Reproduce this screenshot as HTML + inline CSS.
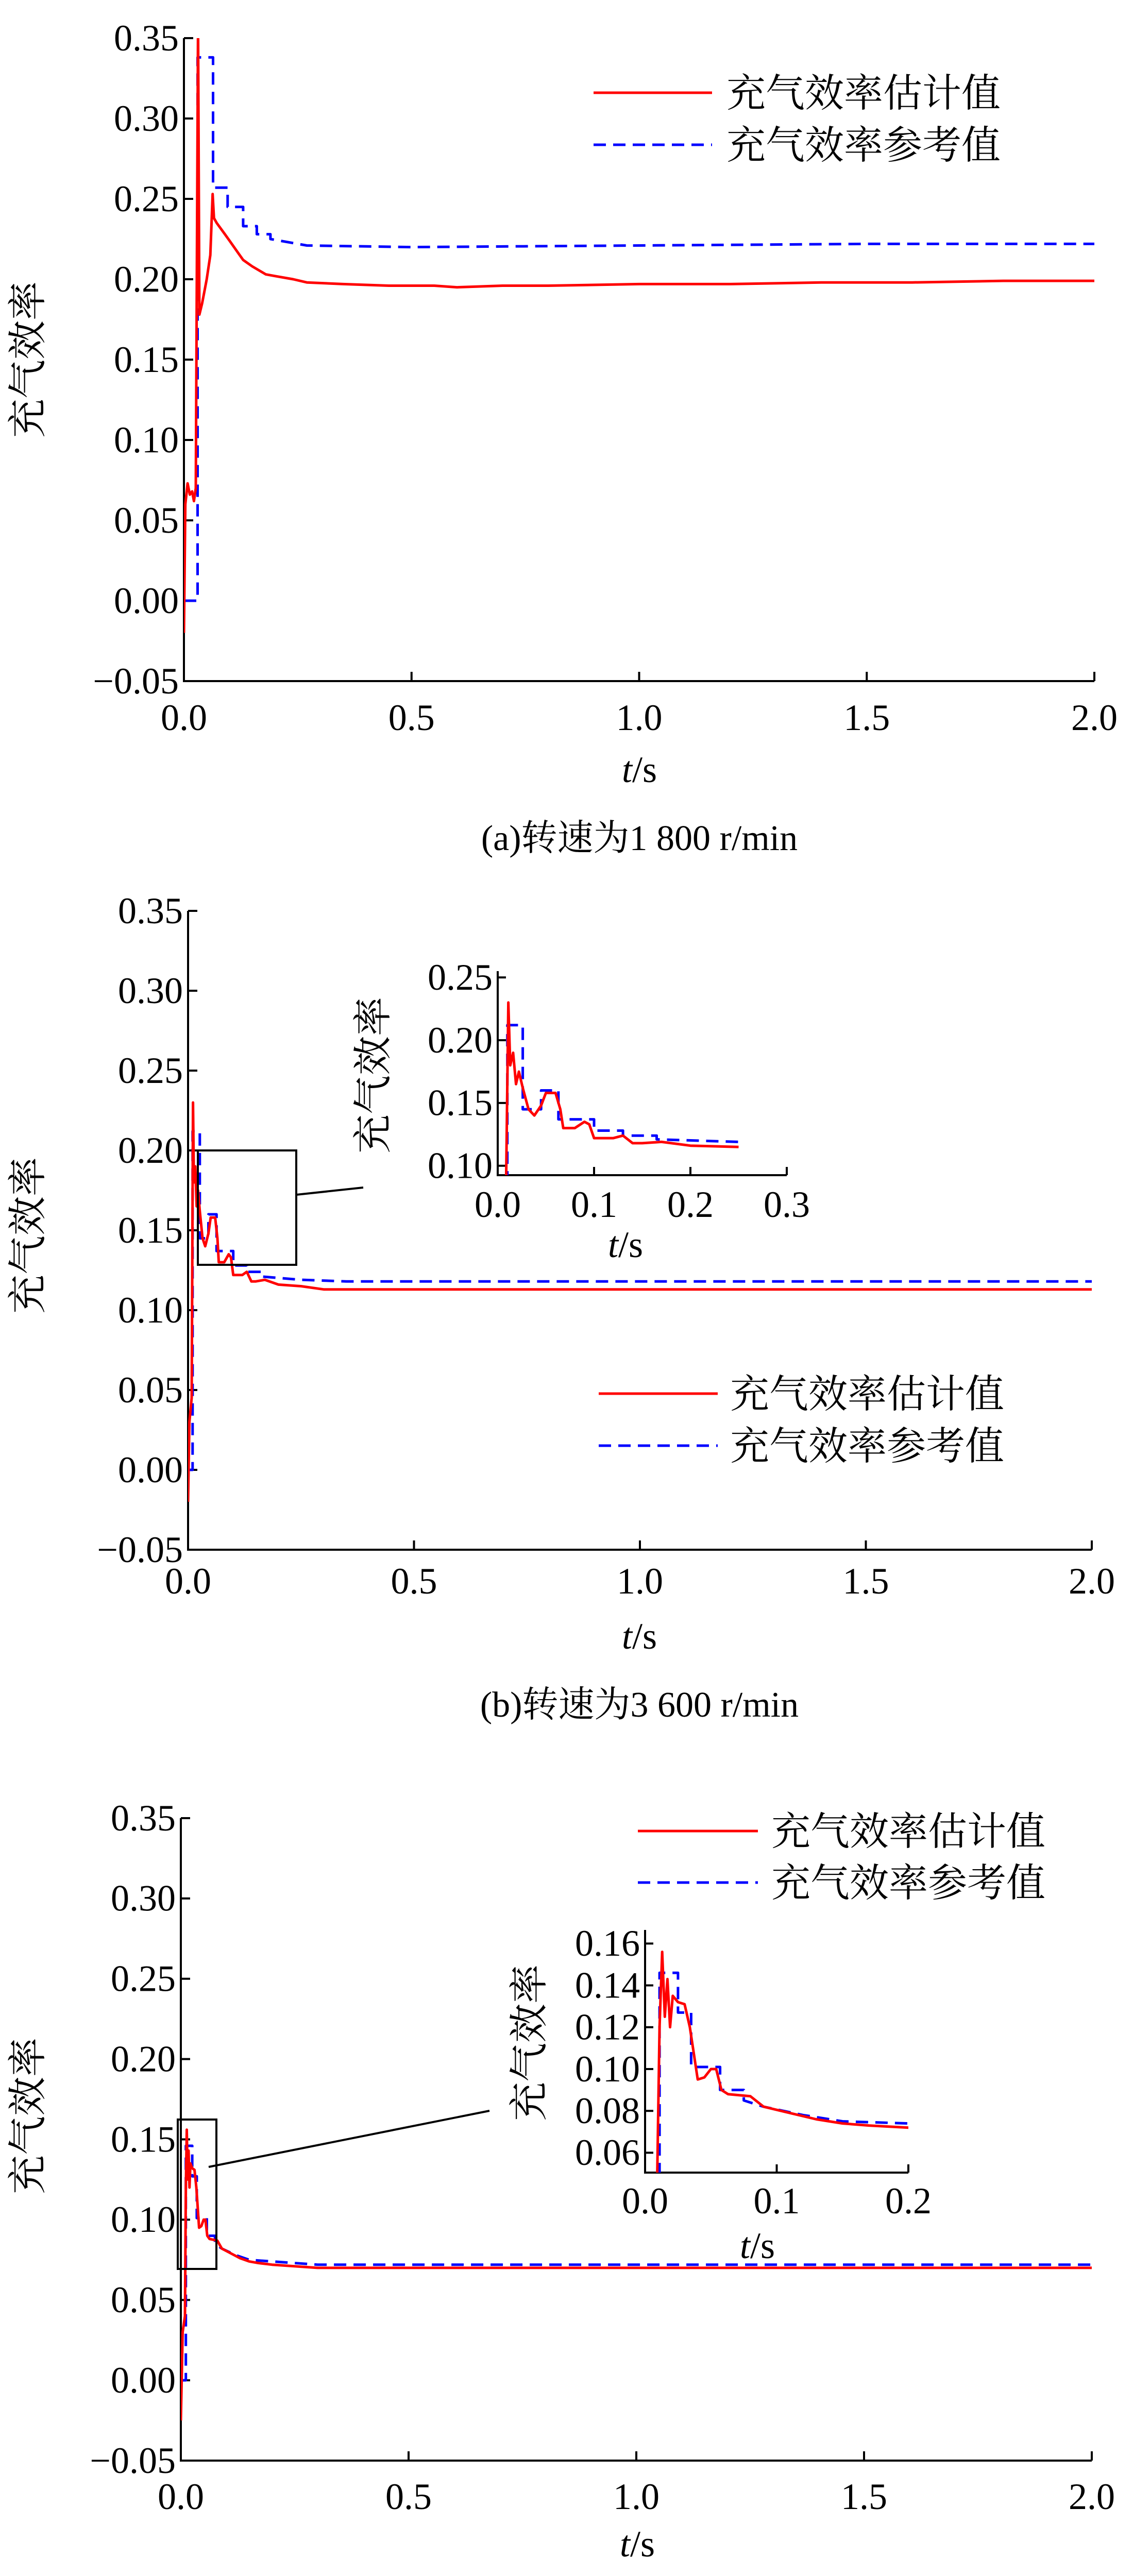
<!DOCTYPE html>
<html><head><meta charset="utf-8">
<style>
html,body{margin:0;padding:0;background:#fff;overflow:hidden;width:2199px;height:5159px;}
svg{display:block;position:absolute;left:0;top:0;}
</style></head>
<body>
<svg id="fig" width="2199" height="5159" viewBox="0 0 2199 5159" xmlns="http://www.w3.org/2000/svg">
<defs>
<clipPath id="clipA"><rect x="357" y="74" width="1767" height="1248"/></clipPath>
<clipPath id="clipB"><rect x="365" y="1768" width="1754" height="1240"/></clipPath>
<clipPath id="clipBi"><rect x="966" y="1885" width="561" height="396"/></clipPath>
<clipPath id="clipC"><rect x="351" y="3529" width="1768" height="1247"/></clipPath>
<clipPath id="clipCi"><rect x="1252" y="3746" width="511" height="471"/></clipPath>
</defs>
<g id="root"></g>
</svg>
<script>
// ---------- data ----------
const aRedT  = [0,0.003,0.008,0.013,0.018,0.022,0.026,0.031,0.034,0.04,0.05,0.058,0.063,0.066,0.072,0.09,0.1,0.12,0.13,0.15,0.18,0.2,0.24,0.27,0.35,0.45,0.55,0.6,0.7,0.8,1.0,1.2,1.4,1.6,1.8,1.9,2.0];
const aRedV  = [-0.02,0.06,0.073,0.066,0.068,0.062,0.07,0.36,0.178,0.185,0.2,0.215,0.253,0.238,0.235,0.228,0.224,0.216,0.212,0.208,0.203,0.202,0.2,0.198,0.197,0.196,0.196,0.195,0.196,0.196,0.197,0.197,0.198,0.198,0.199,0.199,0.199];
const aBlueT = [0,0.03,0.03,0.064,0.064,0.096,0.096,0.13,0.13,0.16,0.16,0.19,0.19,0.27,0.5,1.0,1.5,2.0];
const aBlueV = [0,0,0.338,0.338,0.257,0.257,0.245,0.245,0.233,0.233,0.228,0.228,0.225,0.221,0.22,0.221,0.222,0.222];

const bRedT  = [0,0.003,0.008,0.011,0.013,0.016,0.019,0.022,0.026,0.032,0.038,0.045,0.05,0.06,0.065,0.068,0.08,0.09,0.095,0.1,0.12,0.13,0.14,0.15,0.17,0.2,0.25,0.3,0.5,1.0,1.5,2.0];
const bRedV  = [-0.02,0.03,0.045,0.23,0.18,0.19,0.165,0.175,0.162,0.145,0.14,0.148,0.158,0.158,0.145,0.13,0.13,0.135,0.133,0.122,0.122,0.124,0.118,0.118,0.119,0.116,0.115,0.113,0.113,0.113,0.113,0.113];
const bBlueT = [0,0.01,0.01,0.026,0.026,0.045,0.045,0.063,0.063,0.1,0.1,0.13,0.13,0.165,0.165,0.25,0.35,1.0,2.0];
const bBlueV = [0,0,0.212,0.212,0.145,0.145,0.16,0.16,0.137,0.137,0.128,0.128,0.124,0.124,0.121,0.119,0.118,0.118,0.118];

const cRedT  = [0,0.004,0.009,0.011,0.013,0.015,0.017,0.019,0.021,0.025,0.03,0.034,0.04,0.045,0.05,0.054,0.058,0.063,0.08,0.09,0.11,0.13,0.15,0.17,0.2,0.3,0.5,1.0,1.5,2.0];
const cRedV  = [-0.025,0.03,0.04,0.12,0.156,0.125,0.143,0.12,0.135,0.132,0.131,0.12,0.095,0.096,0.1,0.1,0.09,0.088,0.087,0.082,0.079,0.076,0.074,0.073,0.072,0.07,0.07,0.07,0.07,0.07];
const cBlueT = [0,0.011,0.011,0.025,0.025,0.035,0.035,0.057,0.057,0.075,0.075,0.09,0.12,0.15,0.2,0.3,1.0,2.0];
const cBlueV = [0,0,0.146,0.146,0.127,0.127,0.101,0.101,0.09,0.09,0.085,0.082,0.078,0.075,0.074,0.072,0.072,0.072];

const mainYTicks = [-0.05,0,0.05,0.10,0.15,0.20,0.25,0.30,0.35];
const mainYLabels = ["\u22120.05","0.00","0.05","0.10","0.15","0.20","0.25","0.30","0.35"];
const mainXTicks = [0,0.5,1.0,1.5,2.0];
const mainXLabels = ["0.0","0.5","1.0","1.5","2.0"];
const bInYTicks = [0.10,0.15,0.20,0.25];
const bInYLabels = ["0.10","0.15","0.20","0.25"];
const bInXTicks = [0,0.1,0.2,0.3];
const bInXLabels = ["0.0","0.1","0.2","0.3"];
const cInYTicks = [0.06,0.08,0.10,0.12,0.14,0.16];
const cInYLabels = ["0.06","0.08","0.10","0.12","0.14","0.16"];
const cInXTicks = [0,0.1,0.2];
const cInXLabels = ["0.0","0.1","0.2"];

// ---------- drawing ----------
const NS = "http://www.w3.org/2000/svg";
const SERIF = '"Liberation Serif", "Noto Serif CJK SC", serif';
const CJK = '"Noto Serif CJK SC", "Noto Sans CJK SC", serif';
const root = document.getElementById('root');
function mk(tag, attrs, parent){
  const e = document.createElementNS(NS, tag);
  if (tag === 'text') { e.setAttribute('font-family', SERIF); e.setAttribute('fill', '#000'); }
  for (const k in attrs) e.setAttribute(k, attrs[k]);
  (parent||root).appendChild(e);
  return e;
}
function scale(d0,d1,r0,r1){ return v => r0 + (v-d0)/(d1-d0)*(r1-r0); }

function axes(ax, g, pre){
  const x = scale(ax.x0v, ax.x1v, ax.x0, ax.x1);
  const y = scale(ax.y0v, ax.y1v, ax.y0, ax.y1);
  const axLine = mk('path', {d:`M${ax.x0},${ax.y1} L${ax.x0},${ax.y0} L${ax.x1},${ax.y0}`, fill:'none', stroke:'#000', 'stroke-width':ax.lw}, g);
  
  
  ax.yt.forEach((v,i)=>{
    const ty = y(v);
    const t = mk('line', {x1:ax.x0, y1:ty, x2:ax.x0+ax.tl, y2:ty, stroke:'#000','stroke-width':ax.lw}, g);
    
    
    const l = mk('text', {x:ax.x0-10, y:ty+ax.fs*0.33, 'text-anchor':'end','font-size':ax.fs}, g);
    l.textContent = ax.yl[i];
    
    
  });
  ax.xt.forEach((v,i)=>{
    const tx = x(v);
    const t = mk('line', {x1:tx, y1:ax.y0, x2:tx, y2:ax.y0-ax.tl, stroke:'#000','stroke-width':ax.lw}, g);
    
    
    const l = mk('text', {x:tx, y:ax.xly, 'text-anchor':'middle','font-size':ax.fs}, g);
    l.textContent = ax.xl[i];
    
    
  });
  return {x,y};
}
function series(sc, ts, vs, color, dash, clip, g, name){
  let d = '';
  ts.forEach((t,i)=>{ d += (i?'L':'M') + sc.x(t).toFixed(1) + ',' + sc.y(vs[i]).toFixed(1); });
  const p = mk('path', {d, fill:'none', stroke:color, 'stroke-width':5, 'stroke-linejoin':'round', 'clip-path':`url(#${clip})`}, g);
  if (dash) p.setAttribute('stroke-dasharray', dash);
  
  
}
function label(x,y,txt,fs,rot,g,name,cjk){
  const t = mk('text', {x, y, 'text-anchor':'middle','font-size':fs}, g);
  if (rot) t.setAttribute('transform', `rotate(-90 ${x} ${y})`);
  if (cjk === 'cjk') t.setAttribute('font-family', CJK);
  t.innerHTML = txt;
  
  
  return t;
}
function legend(g, x0, x1, tx, yr, yb, pre){
  const l1 = mk('line', {x1:x0, y1:yr, x2:x1, y2:yr, stroke:'#f00','stroke-width':5}, g);
  
  
  const l2 = mk('line', {x1:x0, y1:yb, x2:x1, y2:yb, stroke:'#00f','stroke-width':5,'stroke-dasharray':'24 14'}, g);
  
  
  const t1 = mk('text', {x:tx, y:yr+27, 'font-size':76, 'font-family':CJK}, g);
  t1.textContent = '充气效率估计值';
  
  
  const t2 = mk('text', {x:tx, y:yb+27, 'font-size':76, 'font-family':CJK}, g);
  t2.textContent = '充气效率参考值';
  
  
}
function group(name){
  const g = mk('g', {});
  
  
  return g;
}
const TS = '<tspan font-style="italic">t</tspan>/s';

// Panel a
{
  const g = group('panel-a');
  const sc = axes({x0:357,x1:2124,y0:1322,y1:74,x0v:0,x1v:2,y0v:-0.05,y1v:0.35,yt:mainYTicks,yl:mainYLabels,xt:mainXTicks,xl:mainXLabels,lw:4,tl:18,fs:72,xly:1417}, g, 'a');
  series(sc, aBlueT, aBlueV, '#00f', '24 14', 'clipA', g, 'a-reference-line');
  series(sc, aRedT, aRedV, '#f00', null, 'clipA', g, 'a-estimate-line');
  legend(g, 1152, 1382, 1410, 180, 281, 'a');
  label(1241, 1518, TS, 72, false, g, 'a-x-axis-title');
  label(80, 698, '充气效率', 76, true, g, 'a-y-axis-title', 'cjk');
  label(1241, 1650, '(a)转速为1 800 r/min', 70, false, g, 'a-caption');
}
// Panel b
{
  const g = group('panel-b');
  const sc = axes({x0:365,x1:2119,y0:3008,y1:1768,x0v:0,x1v:2,y0v:-0.05,y1v:0.35,yt:mainYTicks,yl:mainYLabels,xt:mainXTicks,xl:mainXLabels,lw:4,tl:18,fs:72,xly:3093}, g, 'b');
  series(sc, bBlueT, bBlueV, '#00f', '24 14', 'clipB', g, 'b-reference-line');
  series(sc, bRedT, bRedV, '#f00', null, 'clipB', g, 'b-estimate-line');
  const box = mk('rect', {x:384,y:2233,width:191,height:222,fill:'none',stroke:'#000','stroke-width':4}, g);
   
  const ln = mk('line', {x1:575,y1:2319,x2:705,y2:2305,stroke:'#000','stroke-width':4}, g);
   
  const gi = group('b-inset');
  const si = axes({x0:966,x1:1527,y0:2281,y1:1885,x0v:0,x1v:0.3,y0v:0.0925,y1v:0.255,yt:bInYTicks,yl:bInYLabels,xt:bInXTicks,xl:bInXLabels,lw:4,tl:16,fs:72,xly:2362}, gi, 'b-inset');
  const nIn = bRedT.filter(t=>t<=0.255).length;
  series(si, bBlueT.slice(0,16), bBlueV.slice(0,16), '#00f', '24 14', 'clipBi', gi, 'b-inset-reference-line');
  series(si, bRedT.slice(0,nIn), bRedV.slice(0,nIn), '#f00', null, 'clipBi', gi, 'b-inset-estimate-line');
  label(1214, 2440, TS, 72, false, gi, 'b-inset-x-axis-title');
  label(750, 2087, '充气效率', 76, true, gi, 'b-inset-y-axis-title', 'cjk');
  legend(g, 1162, 1393, 1417, 2705, 2806, 'b');
  label(1241, 3200, TS, 72, false, g, 'b-x-axis-title');
  label(80, 2398, '充气效率', 76, true, g, 'b-y-axis-title', 'cjk');
  label(1241, 3332, '(b)转速为3 600 r/min', 70, false, g, 'b-caption');
}
// Panel c
{
  const g = group('panel-c');
  const sc = axes({x0:351,x1:2119,y0:4776,y1:3529,x0v:0,x1v:2,y0v:-0.05,y1v:0.35,yt:mainYTicks,yl:mainYLabels,xt:mainXTicks,xl:mainXLabels,lw:4,tl:18,fs:72,xly:4870}, g, 'c');
  series(sc, cBlueT, cBlueV, '#00f', '24 14', 'clipC', g, 'c-reference-line');
  series(sc, cRedT, cRedV, '#f00', null, 'clipC', g, 'c-estimate-line');
  const box = mk('rect', {x:345,y:4114,width:75,height:290,fill:'none',stroke:'#000','stroke-width':4}, g);
   
  const ln = mk('line', {x1:405,y1:4206,x2:950,y2:4097,stroke:'#000','stroke-width':4}, g);
   
  const gi = group('c-inset');
  const si = axes({x0:1252,x1:1763,y0:4217,y1:3746,x0v:0,x1v:0.2,y0v:0.0505,y1v:0.1665,yt:cInYTicks,yl:cInYLabels,xt:cInXTicks,xl:cInXLabels,lw:4,tl:16,fs:72,xly:4296}, gi, 'c-inset');
  series(si, cBlueT, cBlueV, '#00f', '24 14', 'clipCi', gi, 'c-inset-reference-line');
  series(si, cRedT, cRedV, '#f00', null, 'clipCi', gi, 'c-inset-estimate-line');
  label(1470, 4383, TS, 72, false, gi, 'c-inset-x-axis-title');
  label(1053, 3965, '充气效率', 76, true, gi, 'c-inset-y-axis-title', 'cjk');
  legend(g, 1238, 1471, 1497, 3554, 3654, 'c');
  label(1237, 4962, TS, 72, false, g, 'c-x-axis-title');
  label(1237, 5088, '(c)转速为5 400 r/min', 70, false, g, 'c-caption');
  label(80, 4107, '充气效率', 76, true, g, 'c-y-axis-title', 'cjk');
}
</script>
</body></html>
